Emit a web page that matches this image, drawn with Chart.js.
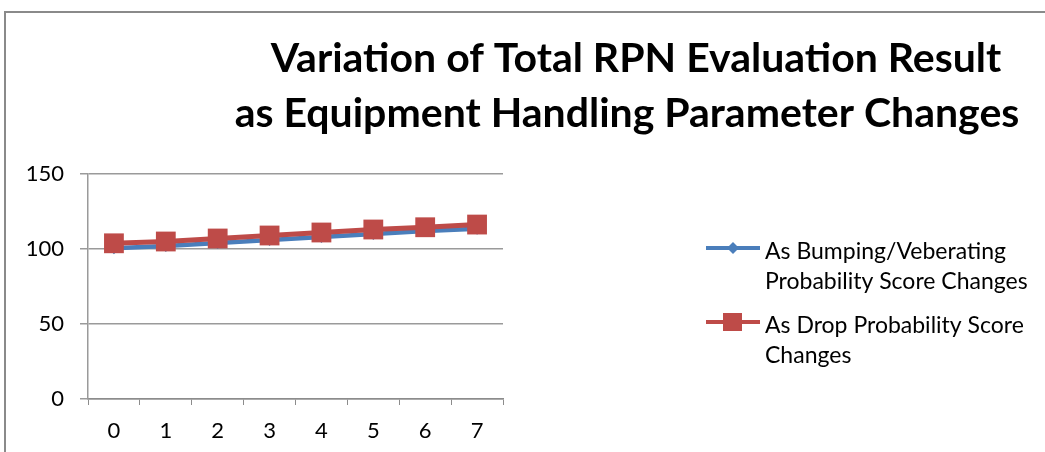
<!DOCTYPE html>
<html lang="en">
<head>
  <meta charset="UTF-8" />
  <title>Total RPN Evaluation Result</title>
  <script src="https://cdn.jsdelivr.net/npm/chart.js"></script>
  <style>
    body {
      margin: 0;
      background: #ffffff;
      width: 1045px;
      height: 452px;
      overflow: hidden;
      position: relative;
    }
    .frame {
      position: absolute;
      left: 4px;
      top: 11px;
      width: 1100px;
      height: 500px;
      border-left: 2px solid #8a8a8a;
      border-top: 2px solid #8a8a8a;
    }
    canvas {
      position: absolute;
      left: 0;
      top: 0;
    }
  </style>
</head>
<body>
  <div class="frame"></div>
  <canvas id="rpnChart" width="1045" height="452"></canvas>

  <script>
    const categories = ['0', '1', '2', '3', '4', '5', '6', '7'];
    const bumpingValues = [100.5, 102, 104, 106, 108, 110, 112, 113.5];
    const dropValues = [103.8, 105, 107, 109, 111, 113, 114.5, 116.3];
    const titleLines = ['Variation of Total RPN Evaluation Result', 'as Equipment Handling Parameter Changes'];
    const legendLines = [
      ['As Bumping/Veberating', 'Probability Score Changes'],
      ['As Drop Probability Score', 'Changes']
    ];

    const blue = '#4a7ebb';
    const red = '#be4b48';
    const font = 'Lato, "Open Sans", sans-serif';

    // title + legend drawn by hand, Excel style
    const decor = {
      id: 'decor',
      afterDraw(chart) {
        const c = chart.ctx;
        c.save();
        c.fillStyle = '#000';
        c.textAlign = 'center';
        c.textBaseline = 'alphabetic';
        c.font = 'bold 41px ' + font;
        c.fillText(titleLines[0], 636, 72);
        c.fillText(titleLines[1], 627, 127);

        c.textAlign = 'left';
        c.textBaseline = 'middle';
        c.font = '23px ' + font;
        const entries = [
          { color: blue, y: 252, shape: 'diamond' },
          { color: red, y: 326, shape: 'square' }
        ];
        entries.forEach((e, i) => {
          c.strokeStyle = e.color;
          c.lineWidth = 4;
          c.beginPath();
          c.moveTo(706, e.y - 4);
          c.lineTo(760, e.y - 4);
          c.stroke();
          c.fillStyle = e.color;
          c.beginPath();
          if (e.shape === 'diamond') {
            c.moveTo(733, e.y - 10);
            c.lineTo(739, e.y - 4);
            c.lineTo(733, e.y + 2);
            c.lineTo(727, e.y - 4);
          } else {
            c.rect(723, e.y - 13, 19, 18);
          }
          c.fill();
          c.fillStyle = '#000';
          legendLines[i].forEach((t, j) => c.fillText(t, 765, e.y + j * 30));
        });
        c.restore();
      }
    };

    const ctx = document.getElementById('rpnChart').getContext('2d');

    new Chart(ctx, {
      type: 'line',
      data: {
        labels: categories,
        datasets: [
          {
            label: 'As Bumping/Veberating Probability Score Changes',
            data: bumpingValues,
            order: 2,
            borderColor: blue,
            backgroundColor: blue,
            borderWidth: 4.5,
            pointStyle: 'rectRot',
            pointRadius: 6,
            pointBorderWidth: 0,
            tension: 0
          },
          {
            label: 'As Drop Probability Score Changes',
            data: dropValues,
            order: 1,
            borderColor: red,
            backgroundColor: red,
            borderWidth: 5,
            pointStyle: 'rect',
            pointRadius: 14,
            pointBorderWidth: 0,
            tension: 0
          }
        ]
      },
      options: {
        responsive: false,
        animation: false,
        events: [],
        layout: {
          padding: { left: 0, top: 174, right: 542, bottom: 8 }
        },
        plugins: {
          legend: { display: false },
          title: { display: false },
          tooltip: { enabled: false }
        },
        scales: {
          x: {
            offset: true,
            afterFit: (s) => { s.height = 45; },
            grid: {
              offset: true,
              drawOnChartArea: false,
              drawTicks: true,
              tickLength: 6,
              color: '#8c8c8c'
            },
            border: { color: '#8c8c8c', width: 1.5 },
            ticks: {
              color: '#000',
              padding: 13,
              font: { family: font, size: 22 }
            }
          },
          y: {
            min: 0,
            max: 150,
            afterFit: (s) => { s.width = 88; },
            grid: {
              color: '#9a9a9a',
              lineWidth: 1.5,
              tickLength: 8
            },
            border: { color: '#9a9a9a', width: 1.5 },
            ticks: {
              stepSize: 50,
              color: '#000',
              padding: 16,
              font: { family: font, size: 22 }
            }
          }
        }
      },
      plugins: [decor]
    });
  </script>
</body>
</html>
